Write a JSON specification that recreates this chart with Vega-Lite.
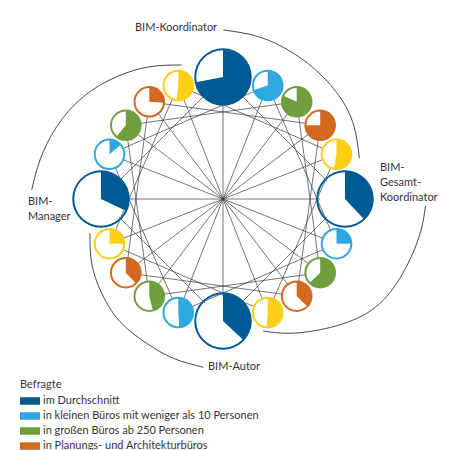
{
  "$schema": "https://vega.github.io/schema/vega-lite/v6.json",
  "width": 450,
  "height": 450,
  "padding": 0,
  "autosize": {"type": "none"},
  "background": "white",
  "config": {"view": {"stroke": null}, "font": "Lato"},
  "datasets": {
    "nodes": [
      {"id": 0, "role": "BIM-Koordinator", "group": "im Durchschnitt", "kind": "big", "x": 0, "y": 122, "share": 0.72},
      {"id": 1, "role": "BIM-Koordinator", "group": "in kleinen Büros mit weniger als 10 Personen", "kind": "small", "x": 44.7, "y": 113.5, "share": 0.70},
      {"id": 2, "role": "BIM-Koordinator", "group": "in großen Büros ab 250 Personen", "kind": "small", "x": 73.7, "y": 97.2, "share": 0.82},
      {"id": 3, "role": "BIM-Koordinator", "group": "in Planungs- und Architekturbüros", "kind": "small", "x": 97.2, "y": 73.7, "share": 0.75},
      {"id": 4, "role": "BIM-Koordinator", "group": "in Ingenieurbüros", "kind": "small", "x": 113.5, "y": 44.7, "share": 0.53},
      {"id": 5, "role": "BIM-Gesamt-Koordinator", "group": "im Durchschnitt", "kind": "big", "x": 122, "y": 0, "share": 0.38},
      {"id": 6, "role": "BIM-Gesamt-Koordinator", "group": "in kleinen Büros mit weniger als 10 Personen", "kind": "small", "x": 113.5, "y": -44.7, "share": 0.25},
      {"id": 7, "role": "BIM-Gesamt-Koordinator", "group": "in großen Büros ab 250 Personen", "kind": "small", "x": 97.2, "y": -73.7, "share": 0.63},
      {"id": 8, "role": "BIM-Gesamt-Koordinator", "group": "in Planungs- und Architekturbüros", "kind": "small", "x": 73.7, "y": -97.2, "share": 0.37},
      {"id": 9, "role": "BIM-Gesamt-Koordinator", "group": "in Ingenieurbüros", "kind": "small", "x": 44.7, "y": -113.5, "share": 0.51},
      {"id": 10, "role": "BIM-Autor", "group": "im Durchschnitt", "kind": "big", "x": 0, "y": -122, "share": 0.37},
      {"id": 11, "role": "BIM-Autor", "group": "in kleinen Büros mit weniger als 10 Personen", "kind": "small", "x": -44.7, "y": -113.5, "share": 0.49},
      {"id": 12, "role": "BIM-Autor", "group": "in großen Büros ab 250 Personen", "kind": "small", "x": -73.7, "y": -97.2, "share": 0.46},
      {"id": 13, "role": "BIM-Autor", "group": "in Planungs- und Architekturbüros", "kind": "small", "x": -97.2, "y": -73.7, "share": 0.38},
      {"id": 14, "role": "BIM-Autor", "group": "in Ingenieurbüros", "kind": "small", "x": -113.5, "y": -44.7, "share": 0.25},
      {"id": 15, "role": "BIM-Manager", "group": "im Durchschnitt", "kind": "big", "x": -122, "y": 0, "share": 0.32},
      {"id": 16, "role": "BIM-Manager", "group": "in kleinen Büros mit weniger als 10 Personen", "kind": "small", "x": -113.5, "y": 44.7, "share": 0.14},
      {"id": 17, "role": "BIM-Manager", "group": "in großen Büros ab 250 Personen", "kind": "small", "x": -97.2, "y": 73.7, "share": 0.61},
      {"id": 18, "role": "BIM-Manager", "group": "in Planungs- und Architekturbüros", "kind": "small", "x": -73.7, "y": 97.2, "share": 0.26},
      {"id": 19, "role": "BIM-Manager", "group": "in Ingenieurbüros", "kind": "small", "x": -44.7, "y": 113.5, "share": 0.52}
    ],
    "edges": [
      {"s": 0, "t": 5}, {"s": 5, "t": 10}, {"s": 10, "t": 15}, {"s": 15, "t": 0}, {"s": 0, "t": 10}, {"s": 5, "t": 15},
      {"s": 1, "t": 6}, {"s": 6, "t": 11}, {"s": 11, "t": 16}, {"s": 16, "t": 1}, {"s": 1, "t": 11}, {"s": 6, "t": 16},
      {"s": 2, "t": 7}, {"s": 7, "t": 12}, {"s": 12, "t": 17}, {"s": 17, "t": 2}, {"s": 2, "t": 12}, {"s": 7, "t": 17},
      {"s": 3, "t": 8}, {"s": 8, "t": 13}, {"s": 13, "t": 18}, {"s": 18, "t": 3}, {"s": 3, "t": 13}, {"s": 8, "t": 18},
      {"s": 4, "t": 9}, {"s": 9, "t": 14}, {"s": 14, "t": 19}, {"s": 19, "t": 4}, {"s": 4, "t": 14}, {"s": 9, "t": 19}
    ],
    "leaders": [
      {"role": "BIM-Koordinator", "i": 0, "x": 0.3, "y": 169},
      {"role": "BIM-Koordinator", "i": 1, "x": 40.3, "y": 160.7},
      {"role": "BIM-Koordinator", "i": 2, "x": 80.3, "y": 139},
      {"role": "BIM-Koordinator", "i": 3, "x": 110.3, "y": 110.7},
      {"role": "BIM-Koordinator", "i": 4, "x": 127, "y": 84},
      {"role": "BIM-Koordinator", "i": 5, "x": 133.7, "y": 60.7},
      {"role": "BIM-Koordinator", "i": 6, "x": 136.3, "y": 40.7},
      {"role": "BIM-Gesamt-Koordinator", "i": 0, "x": 202.5, "y": -7},
      {"role": "BIM-Gesamt-Koordinator", "i": 1, "x": 195, "y": -41},
      {"role": "BIM-Gesamt-Koordinator", "i": 2, "x": 173.7, "y": -84.3},
      {"role": "BIM-Gesamt-Koordinator", "i": 3, "x": 143.7, "y": -114.3},
      {"role": "BIM-Gesamt-Koordinator", "i": 4, "x": 103.7, "y": -129.3},
      {"role": "BIM-Gesamt-Koordinator", "i": 5, "x": 67, "y": -134.3},
      {"role": "BIM-Gesamt-Koordinator", "i": 6, "x": 40.3, "y": -132},
      {"role": "BIM-Autor", "i": 0, "x": -133, "y": -34.3},
      {"role": "BIM-Autor", "i": 1, "x": -131.3, "y": -64.3},
      {"role": "BIM-Autor", "i": 2, "x": -121.3, "y": -94.3},
      {"role": "BIM-Autor", "i": 3, "x": -103, "y": -122.7},
      {"role": "BIM-Autor", "i": 4, "x": -76.3, "y": -144.3},
      {"role": "BIM-Autor", "i": 5, "x": -49.7, "y": -159.3},
      {"role": "BIM-Autor", "i": 6, "x": -19.7, "y": -168.3},
      {"role": "BIM-Manager", "i": 0, "x": -191.3, "y": 9},
      {"role": "BIM-Manager", "i": 1, "x": -183, "y": 39},
      {"role": "BIM-Manager", "i": 2, "x": -166.3, "y": 72.3},
      {"role": "BIM-Manager", "i": 3, "x": -139.7, "y": 102.3},
      {"role": "BIM-Manager", "i": 4, "x": -106.3, "y": 122.3},
      {"role": "BIM-Manager", "i": 5, "x": -73, "y": 132.3},
      {"role": "BIM-Manager", "i": 6, "x": -41.3, "y": 134}
    ],
    "labels": [
      {"text": "BIM-Koordinator", "x": -88, "y": 171},
      {"text": "BIM-\nGesamt-\nKoordinator", "x": 157, "y": 31},
      {"text": "BIM-Autor", "x": -15, "y": -168},
      {"text": "BIM-\nManager", "x": -195, "y": -3}
    ]
  },
  "layer": [
    {
      "data": {"name": "edges"},
      "transform": [
        {"lookup": "s", "from": {"data": {"name": "nodes"}, "key": "id", "fields": ["x", "y"]}, "as": ["sx", "sy"]},
        {"lookup": "t", "from": {"data": {"name": "nodes"}, "key": "id", "fields": ["x", "y"]}, "as": ["tx", "ty"]}
      ],
      "mark": {"type": "rule", "color": "#3a3a3a", "strokeWidth": 0.7},
      "encoding": {
        "x": {"field": "sx", "type": "quantitative", "scale": {"domain": [-223, 227], "nice": false, "zero": false}, "axis": null},
        "y": {"field": "sy", "type": "quantitative", "scale": {"domain": [-251, 199], "nice": false, "zero": false}, "axis": null},
        "x2": {"field": "tx"},
        "y2": {"field": "ty"}
      }
    },
    {
      "data": {"name": "leaders"},
      "mark": {"type": "line", "interpolate": "natural", "color": "#4a4a4a", "strokeWidth": 1},
      "encoding": {
        "x": {"field": "x", "type": "quantitative", "axis": null},
        "y": {"field": "y", "type": "quantitative", "axis": null},
        "detail": {"field": "role"},
        "order": {"field": "i", "type": "quantitative"}
      }
    },
    {
      "data": {"name": "nodes"},
      "transform": [{"filter": "datum.kind === 'big'"}],
      "mark": {"type": "circle", "fill": "white", "fillOpacity": 1, "opacity": 1, "size": 2500},
      "encoding": {
        "x": {"field": "x", "type": "quantitative", "axis": null},
        "y": {"field": "y", "type": "quantitative", "axis": null}
      }
    },
    {
      "data": {"name": "nodes"},
      "transform": [{"filter": "datum.kind === 'small'"}],
      "mark": {"type": "circle", "fill": "white", "fillOpacity": 1, "opacity": 1, "size": 750},
      "encoding": {
        "x": {"field": "x", "type": "quantitative", "axis": null},
        "y": {"field": "y", "type": "quantitative", "axis": null}
      }
    },
    {
      "data": {"name": "nodes"},
      "transform": [{"filter": "datum.kind === 'big'"}],
      "mark": {"type": "arc", "radius": 28.8, "radius2": 26.8},
      "encoding": {
        "x": {"field": "x", "type": "quantitative", "axis": null},
        "y": {"field": "y", "type": "quantitative", "axis": null},
        "theta": {"datum": 1, "type": "quantitative", "scale": {"domain": [0, 1], "range": [0, 6.283185]}},
        "theta2": {"datum": 0},
        "color": {"field": "group", "type": "nominal",
          "scale": {"domain": ["im Durchschnitt", "in kleinen Büros mit weniger als 10 Personen", "in großen Büros ab 250 Personen", "in Planungs- und Architekturbüros", "in Ingenieurbüros"],
                    "range": ["#005a94", "#2ea8de", "#6f9e3c", "#d2691f", "#fccf14"]},
          "legend": {"title": "Befragte", "orient": "none", "legendX": 20, "legendY": 379,
            "values": ["im Durchschnitt", "in kleinen Büros mit weniger als 10 Personen", "in großen Büros ab 250 Personen", "in Planungs- und Architekturbüros"],
            "symbolType": "M-1,-0.375H1V0.375H-1Z", "symbolSize": 400, "symbolStrokeWidth": 0, "symbolOpacity": 1,
            "labelFontSize": 11, "titleFontSize": 11, "titleFontWeight": "normal", "labelColor": "#333333", "titleColor": "#333333",
            "rowPadding": -1, "labelOffset": 3, "titlePadding": 1, "padding": 0, "labelLimit": 400}}
      }
    },
    {
      "data": {"name": "nodes"},
      "transform": [{"filter": "datum.kind === 'small'"}],
      "mark": {"type": "arc", "radius": 15.8, "radius2": 13.8},
      "encoding": {
        "x": {"field": "x", "type": "quantitative", "axis": null},
        "y": {"field": "y", "type": "quantitative", "axis": null},
        "theta": {"datum": 1, "type": "quantitative"},
        "theta2": {"datum": 0},
        "color": {"field": "group", "type": "nominal"}
      }
    },
    {
      "data": {"name": "nodes"},
      "transform": [{"filter": "datum.kind === 'big'"}],
      "mark": {"type": "arc", "radius": 27.5},
      "encoding": {
        "x": {"field": "x", "type": "quantitative", "axis": null},
        "y": {"field": "y", "type": "quantitative", "axis": null},
        "theta": {"field": "share", "type": "quantitative", "stack": null},
        "theta2": {"datum": 0},
        "color": {"field": "group", "type": "nominal"}
      }
    },
    {
      "data": {"name": "nodes"},
      "transform": [{"filter": "datum.kind === 'small'"}],
      "mark": {"type": "arc", "radius": 14.5},
      "encoding": {
        "x": {"field": "x", "type": "quantitative", "axis": null},
        "y": {"field": "y", "type": "quantitative", "axis": null},
        "theta": {"field": "share", "type": "quantitative", "stack": null},
        "theta2": {"datum": 0},
        "color": {"field": "group", "type": "nominal"}
      }
    },
    {
      "data": {"name": "labels"},
      "mark": {"type": "text", "align": "left", "baseline": "middle", "lineBreak": "\n", "lineHeight": 14.8, "fontSize": 11, "color": "#333333", "font": "Lato"},
      "encoding": {
        "x": {"field": "x", "type": "quantitative", "axis": null},
        "y": {"field": "y", "type": "quantitative", "axis": null},
        "text": {"field": "text"}
      }
    }
  ]
}
